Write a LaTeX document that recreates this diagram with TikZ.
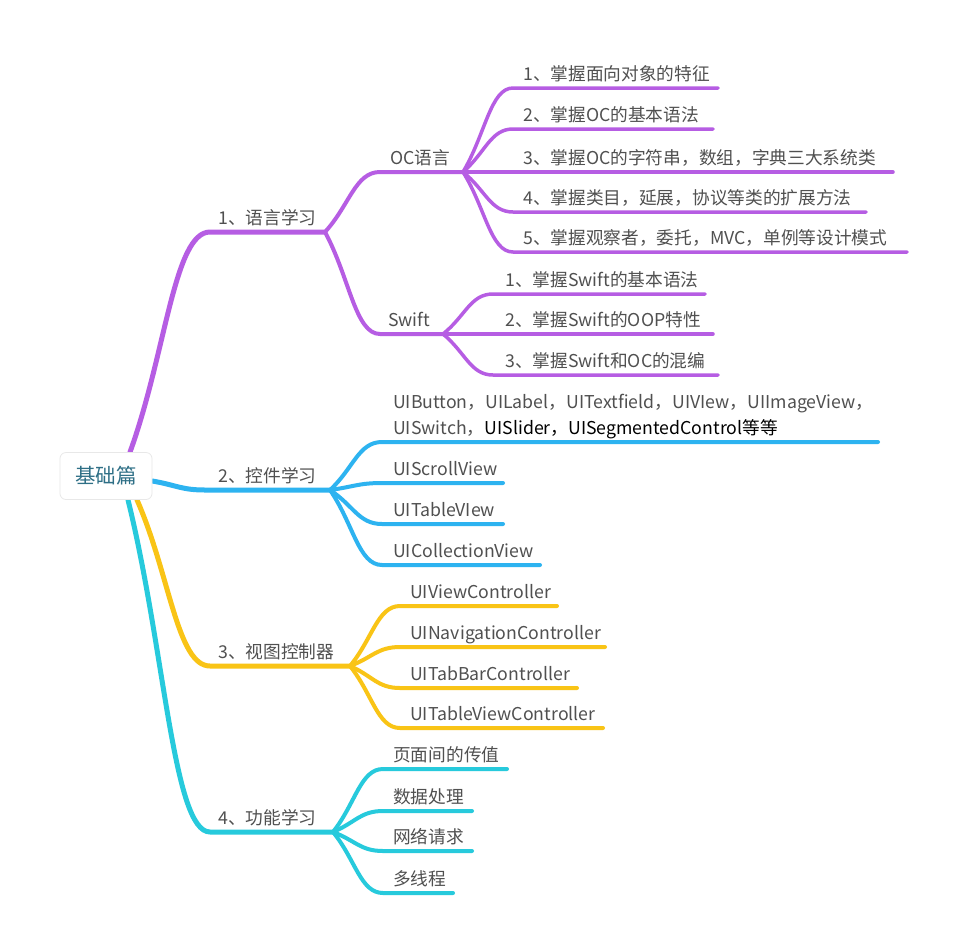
\documentclass[tikz,border=0pt]{standalone}
\usepackage{fontspec}
\newfontfamily\cjk{Noto Sans CJK SC}
\usetikzlibrary{calc,backgrounds}
\definecolor{cP}{HTML}{B65DE3}
\definecolor{cB}{HTML}{2DB3F0}
\definecolor{cY}{HTML}{F9C416}
\definecolor{cC}{HTML}{27CADC}
\definecolor{txt}{HTML}{505050}
\definecolor{roottxt}{HTML}{2E6F86}
\definecolor{rootb}{HTML}{E8E8E8}
\begin{document}
\begin{tikzpicture}[x=1pt,y=-1pt,
  lbl/.style={anchor=base west, inner sep=0pt, font=\cjk\fontsize{17.7}{26}\selectfont, text=txt},
  curv/.style={to path={.. controls ($(\tikztostart)!0.45!(\tikztotarget)$) and ($(\tikztotarget)!0.45!(\tikztostart|-\tikztotarget)$) .. (\tikztotarget)}},
  lA/.style={line width=5pt, line cap=round, line join=round},
  lB/.style={line width=4pt, line cap=round, line join=round},
  lC/.style={line width=3.5pt, line cap=round, line join=round},
  rootbox/.style={draw=rootb, line width=0.8pt, fill=white, rounded corners=6pt,
    minimum width=92pt, minimum height=47pt, inner sep=0pt,
    font=\cjk\fontsize{20.5}{24}\selectfont, text=roottxt}
]
\useasboundingbox (0,0) rectangle (966,951);

\node[rootbox] (root) at (106,476) {基础篇};
\coordinate (r1) at ($(root.north)+(24,0)$);
\coordinate (r2) at ($(root.east)+(0,5)$);
\coordinate (r3) at ($(root.south)+(31,0)$);
\coordinate (r4) at ($(root.south)+(22,0)$);

% ---------- coordinates of underlines ----------
% branch 1
\coordinate (a) at (210,232); \coordinate (ae) at (325,232);
\coordinate (oc) at (380,172); \coordinate (oce) at (463,172);
\coordinate (sw) at (380,334); \coordinate (swe) at (443,334);
\coordinate (o1) at (513,88);  \coordinate (o1e) at (718,88);
\coordinate (o2) at (513,129); \coordinate (o2e) at (713,129);
\coordinate (o3) at (513,172); \coordinate (o3e) at (893,172);
\coordinate (o4) at (513,212); \coordinate (o4e) at (866,212);
\coordinate (o5) at (513,252); \coordinate (o5e) at (907,252);
\coordinate (s1) at (493,294); \coordinate (s1e) at (705,294);
\coordinate (s2) at (493,334); \coordinate (s2e) at (713,334);
\coordinate (s3) at (493,375); \coordinate (s3e) at (718,375);
% branch 2
\coordinate (b) at (205,490); \coordinate (be) at (330,490);
\coordinate (b1) at (382,442); \coordinate (b1e) at (878,442);
\coordinate (b2) at (382,483); \coordinate (b2e) at (503,483);
\coordinate (b3) at (382,524); \coordinate (b3e) at (503,524);
\coordinate (b4) at (382,565); \coordinate (b4e) at (540,565);
% branch 3
\coordinate (c) at (210,666); \coordinate (ce) at (350,666);
\coordinate (c1) at (400,606); \coordinate (c1e) at (557,606);
\coordinate (c2) at (400,647); \coordinate (c2e) at (605,647);
\coordinate (c3) at (400,688); \coordinate (c3e) at (577,688);
\coordinate (c4) at (400,728); \coordinate (c4e) at (603,728);
% branch 4
\coordinate (d) at (210,832); \coordinate (de) at (333,832);
\coordinate (d1) at (383,769); \coordinate (d1e) at (507,769);
\coordinate (d2) at (383,811); \coordinate (d2e) at (472,811);
\coordinate (d3) at (383,851); \coordinate (d3e) at (472,851);
\coordinate (d4) at (383,893); \coordinate (d4e) at (453,893);

\begin{pgfonlayer}{background}
\fill[white] (0,0) rectangle (966,951);
% branch 1 (purple)
\draw[lA,cP] (r1) to[curv] (a) -- (ae);
\draw[lB,cP] (ae) to[curv] (oc) -- (oce);
\draw[lB,cP] (ae) to[curv] (sw) -- (swe);
\foreach \n in {o1,o2,o3,o4,o5} \draw[lC,cP] (oce) to[curv] (\n) -- (\n e);
\foreach \n in {s1,s2,s3} \draw[lC,cP] (swe) to[curv] (\n) -- (\n e);
% branch 2 (blue)
\draw[lA,cB] (r2) to[curv] (b) -- (be);
\foreach \n in {b1,b2,b3,b4} \draw[lB,cB] (be) to[curv] (\n) -- (\n e);
% branch 3 (yellow)
\draw[lA,cY] (r3) to[curv] (c) -- (ce);
\foreach \n in {c1,c2,c3,c4} \draw[lB,cY] (ce) to[curv] (\n) -- (\n e);
% branch 4 (cyan)
\draw[lA,cC] (r4) to[curv] (d) -- (de);
\foreach \n in {d1,d2,d3,d4} \draw[lB,cC] (de) to[curv] (\n) -- (\n e);
\end{pgfonlayer}

% ---------- labels ----------
\node[lbl] (ta) at (218,224) {1、语言学习};
\node[lbl] (toc) at (390,164) {OC语言};
\node[lbl] (tsw) at (388,326) {Swift};
\node[lbl] (to1) at (523,80) {1、掌握面向对象的特征};
\node[lbl] (to2) at (523,121) {2、掌握OC的基本语法};
\node[lbl] (to3) at (523,164) {3、掌握OC的字符串，数组，字典三大系统类};
\node[lbl] (to4) at (523,204) {4、掌握类目，延展，协议等类的扩展方法};
\node[lbl] (to5) at (523,244) {5、掌握观察者，委托，MVC，单例等设计模式};
\node[lbl] (ts1) at (505,286) {1、掌握Swift的基本语法};
\node[lbl] (ts2) at (505,326) {2、掌握Swift的OOP特性};
\node[lbl] (ts3) at (505,367) {3、掌握Swift和OC的混编};

\node[lbl] (tb) at (218,482) {2、控件学习};
\node[lbl, align=left] (tb1) at (393,434) {UIButton，UILabel，UITextfield，UIVIew，UIImageView，\\UISwitch，\textcolor{black}{UISlider，UISegmentedControl等等}};
\node[lbl] (tb2) at (393,475) {UIScrollView};
\node[lbl] (tb3) at (393,516) {UITableVIew};
\node[lbl] (tb4) at (393,557) {UICollectionView};

\node[lbl] (tc) at (218,658) {3、视图控制器};
\node[lbl] (tc1) at (410,598) {UIViewController};
\node[lbl] (tc2) at (410,639) {UINavigationController};
\node[lbl] (tc3) at (410,680) {UITabBarController};
\node[lbl] (tc4) at (410,720) {UITableViewController};

\node[lbl] (td) at (218,824) {4、功能学习};
\node[lbl] (td1) at (393,761) {页面间的传值};
\node[lbl] (td2) at (393,803) {数据处理};
\node[lbl] (td3) at (393,843) {网络请求};
\node[lbl] (td4) at (393,885) {多线程};
\end{tikzpicture}
\end{document}
